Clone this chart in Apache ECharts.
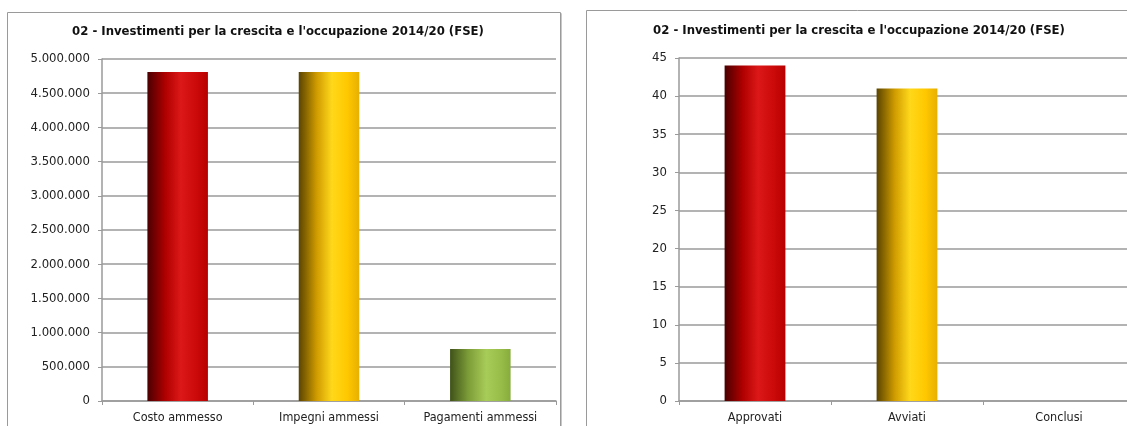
<!DOCTYPE html>
<html>
<head>
<meta charset="utf-8">
<script src="https://cdn.jsdelivr.net/npm/echarts@6/dist/echarts.min.js"></script>
<style>
html,body{margin:0;padding:0;background:#fff;}
#c{width:1127px;height:426px;}
</style>
</head>
<body>
<div id="c"></div>
<script>
var titleText = "02 - Investimenti per la crescita e l'occupazione 2014/20 (FSE)";
var leftCategories = ["Costo ammesso", "Impegni ammessi", "Pagamenti ammessi"];
var leftValues = [4810000, 4810000, 760000];
var rightCategories = ["Approvati", "Avviati", "Conclusi"];
var rightValues = [44, 41, 0];

var FONT = "'DejaVu Sans Condensed', 'Liberation Sans', sans-serif";

function grad(stops) {
  return new echarts.graphic.LinearGradient(0, 0, 1, 0, stops.map(function (s) { return { offset: s[0], color: s[1] }; }));
}
var red = grad([[0, '#4a0000'], [0.3, '#b00000'], [0.55, '#dc1818'], [0.8, '#cc0a0a'], [1, '#b80000']]);
var yellow = grad([[0, '#5a4400'], [0.3, '#d09c00'], [0.55, '#ffd81a'], [0.8, '#ffc800'], [1, '#e8b000']]);
var green = grad([[0, '#3f5218'], [0.3, '#7c9c38'], [0.6, '#a8cc58'], [0.85, '#98bc48'], [1, '#88ac3c']]);
var colors = [red, yellow, green];

function fmtDots(v) {
  return String(v).replace(/\B(?=(\d{3})+(?!\d))/g, '.');
}

var yLbl = { color: '#222', fontFamily: FONT, fontSize: 13 };
var xLbl = { color: '#222', fontFamily: FONT, fontSize: 12.5, interval: 0 };
var gridLine = { lineStyle: { color: '#9a9a9a', width: 1.5 } };
var axisLn = { lineStyle: { color: '#9a9a9a', width: 1.5 } };
var tick = { show: true, length: 4, lineStyle: { color: '#9a9a9a' } };

var chart = echarts.init(document.getElementById('c'), null, { renderer: 'canvas' });
chart.setOption({
  backgroundColor: '#fff',
  animation: false,
  title: [
    { text: titleText, left: 273, top: 20, textAlign: 'center',
      textStyle: { fontFamily: FONT, fontWeight: 'bold', fontSize: 13, color: '#111' } },
    { text: titleText, left: 854, top: 19, textAlign: 'center',
      textStyle: { fontFamily: FONT, fontWeight: 'bold', fontSize: 13, color: '#111' } }
  ],
  graphic: [
    { type: 'rect', shape: { x: 8.5, y: 13.5, width: 553, height: 430 }, style: { fill: 'none', stroke: '#c8c8c8', lineWidth: 1 }, z: -1 },
    { type: 'rect', shape: { x: 7.5, y: 12.5, width: 553, height: 430 }, style: { fill: '#fff', stroke: '#9a9a9a', lineWidth: 1 }, z: -1 },
    { type: 'rect', shape: { x: 586.5, y: 10.5, width: 560, height: 430 }, style: { fill: '#fff', stroke: '#9a9a9a', lineWidth: 1 }, z: -1 }
  ],
  grid: [
    { left: 102, top: 59, width: 454, bottom: 25, outerBoundsMode: 'none' },
    { left: 679, top: 58, width: 456, bottom: 25, outerBoundsMode: 'none' }
  ],
  xAxis: [
    { type: 'category', gridIndex: 0, data: leftCategories,
      axisLine: axisLn, axisTick: tick,
      axisLabel: Object.assign({ margin: 10 }, xLbl) },
    { type: 'category', gridIndex: 1, data: rightCategories,
      axisLine: axisLn, axisTick: tick,
      axisLabel: Object.assign({ margin: 10 }, xLbl) }
  ],
  yAxis: [
    { type: 'value', gridIndex: 0, min: 0, max: 5000000, interval: 500000,
      axisLine: Object.assign({ show: true }, axisLn), axisTick: tick,
      splitLine: gridLine,
      axisLabel: Object.assign({ margin: 12, formatter: fmtDots }, yLbl) },
    { type: 'value', gridIndex: 1, min: 0, max: 45, interval: 5,
      axisLine: Object.assign({ show: true }, axisLn), axisTick: tick,
      splitLine: gridLine,
      axisLabel: Object.assign({ margin: 12 }, yLbl) }
  ],
  series: [
    { type: 'bar', xAxisIndex: 0, yAxisIndex: 0, barWidth: '40%',
      data: leftValues.map(function (v, i) { return { value: v, itemStyle: { color: colors[i] } }; }) },
    { type: 'bar', xAxisIndex: 1, yAxisIndex: 1, barWidth: '40%',
      data: rightValues.map(function (v, i) { return { value: v, itemStyle: { color: colors[i] } }; }) }
  ]
});
</script>
</body>
</html>
